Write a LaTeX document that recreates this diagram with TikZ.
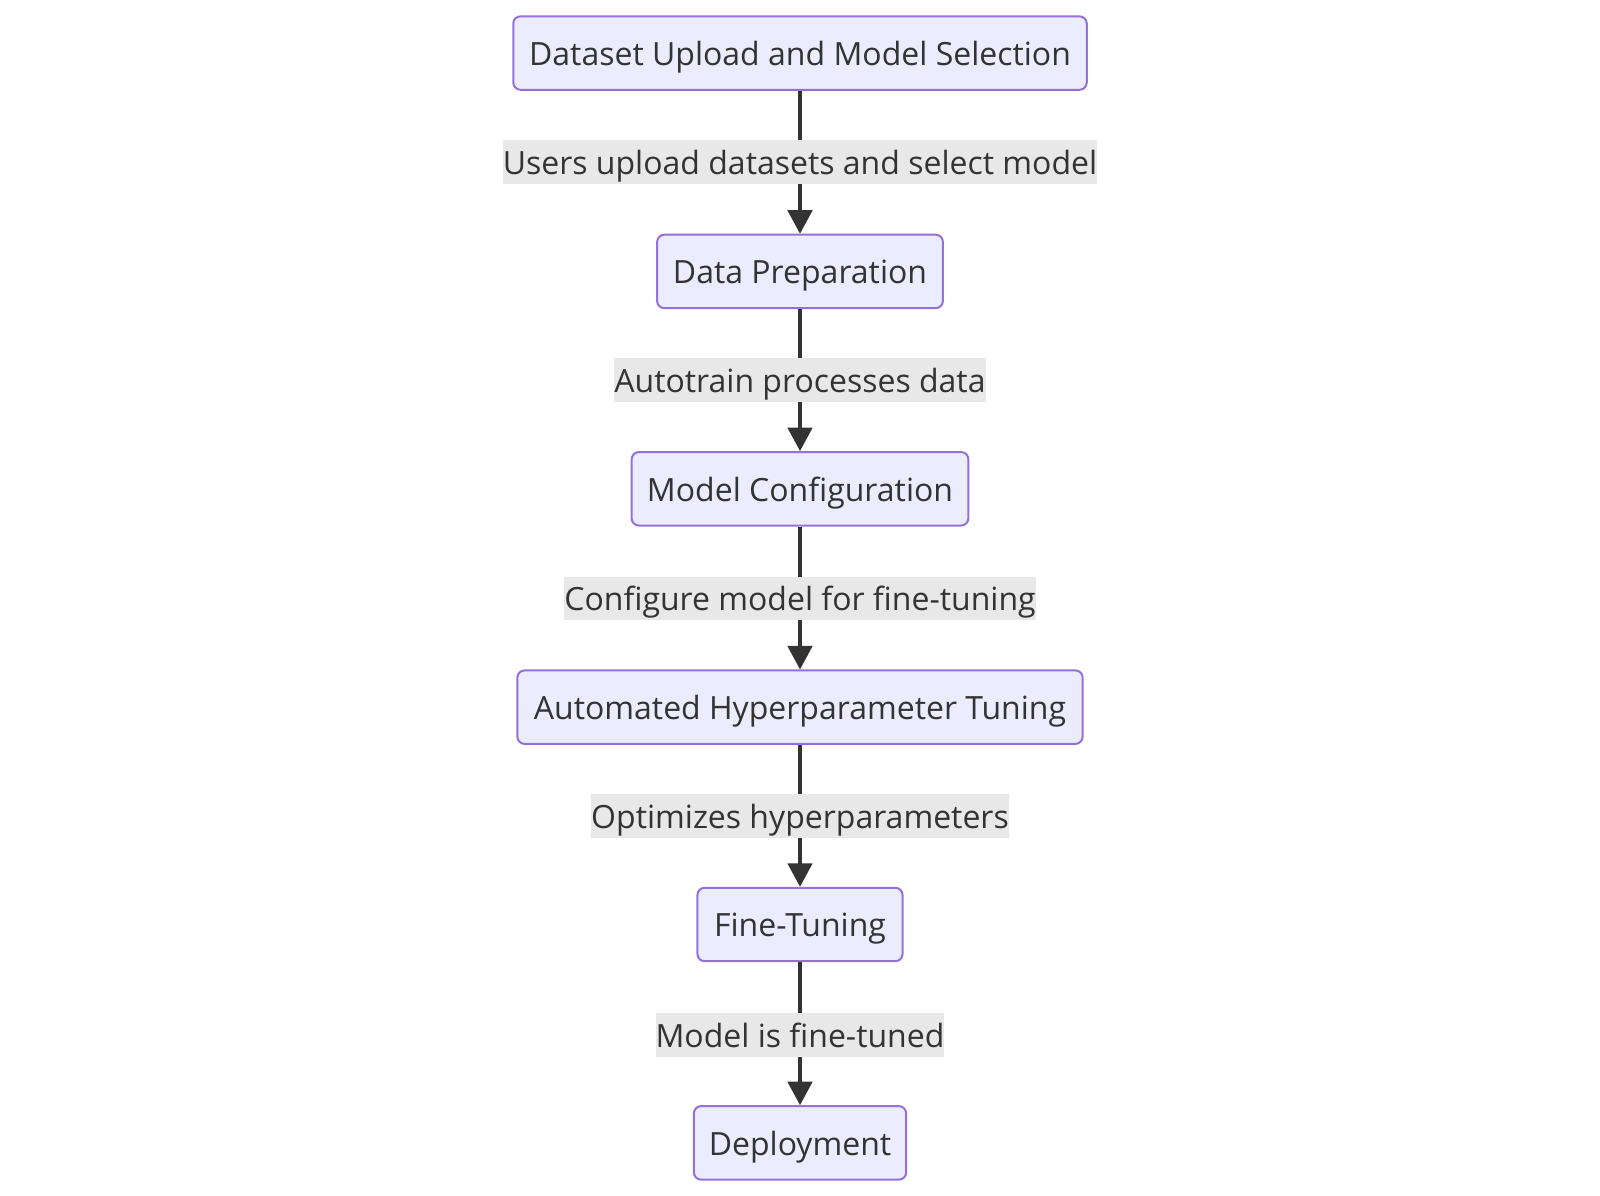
\documentclass[tikz,border=0pt]{standalone}
\usepackage{fontspec}
\setmainfont{Open Sans}
\usetikzlibrary{arrows.meta}
\definecolor{nodefill}{HTML}{ECECFF}
\definecolor{nodeline}{HTML}{9370DB}
\definecolor{ink}{HTML}{333333}
\definecolor{lblbg}{HTML}{E8E8E8}
\tikzset{
  stepbox/.style={draw=nodeline, fill=nodefill, line width=1.5pt, rounded corners=5.4pt,
    minimum height=55.1pt, inner sep=0pt, text=ink, text height=22pt, text depth=3.5pt,
    font=\fontsize{24}{29}\selectfont},
  lbl/.style={fill=lblbg, inner sep=0pt, minimum height=32.9pt, text=ink,
    text height=22pt, text depth=3.5pt, font=\fontsize{24}{29}\selectfont},
  flow/.style={draw=ink, line width=2.3pt, -{Triangle[length=17.6pt,width=18.4pt]}}
}
\begin{document}
\begin{tikzpicture}[x=0.7653pt,y=-0.7653pt]
\useasboundingbox (0,0) rectangle (1568,1172);
\node[stepbox, minimum width=430.1pt] (n1) at (784,52) {Dataset Upload and Model Selection};
\node[stepbox, minimum width=214.3pt] (n2) at (784,266) {Data Preparation};
\node[stepbox, minimum width=252.5pt] (n3) at (784,479) {Model Configuration};
\node[stepbox, minimum width=424.0pt] (n4) at (784,693) {Automated Hyperparameter Tuning};
\node[stepbox, minimum width=153.8pt] (n5) at (784,906) {Fine-Tuning};
\node[stepbox, minimum width=159.2pt] (n6) at (784,1120) {Deployment};
\draw[flow] (n1) -- (n2);
\draw[flow] (n2) -- (n3);
\draw[flow] (n3) -- (n4);
\draw[flow] (n4) -- (n5);
\draw[flow] (n5) -- (n6);
\node[lbl] (l1) at (784,158.5) {Users upload datasets and select model};
\node[lbl] (l2) at (784,372.5) {Autotrain processes data};
\node[lbl] (l3) at (784,586.5) {Configure model for fine-tuning};
\node[lbl] (l4) at (784,800) {Optimizes hyperparameters};
\node[lbl] (l5) at (784,1014) {Model is fine-tuned};
\end{tikzpicture}
\end{document}
